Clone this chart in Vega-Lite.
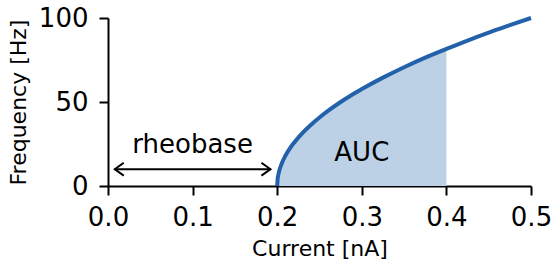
{
  "$schema": "https://vega.github.io/schema/vega-lite/v6.json",
  "autosize": "none",
  "width": 423,
  "height": 168,
  "padding": {"left": 108, "top": 18, "right": 21, "bottom": 76},
  "config": {
    "view": {"stroke": null},
    "font": "DejaVu Sans",
    "axis": {
      "grid": false,
      "domainColor": "black",
      "domainWidth": 2,
      "tickColor": "black",
      "tickWidth": 2,
      "tickSize": 9,
      "labelFont": "DejaVu Sans",
      "labelFontSize": 26,
      "labelColor": "black",
      "labelFlush": false,
      "labelOverlap": false,
      "titleFont": "DejaVu Sans",
      "titleFontSize": 22,
      "titleFontWeight": "normal",
      "titleColor": "black"
    }
  },
  "datasets": {
    "curve": [
      {"I": 0.2, "f": 0},
      {"I": 0.2005, "f": 4.1},
      {"I": 0.201, "f": 5.8},
      {"I": 0.202, "f": 8.2},
      {"I": 0.205, "f": 12.9},
      {"I": 0.21, "f": 18.3},
      {"I": 0.215, "f": 22.4},
      {"I": 0.22, "f": 25.8},
      {"I": 0.23, "f": 31.6},
      {"I": 0.24, "f": 36.5},
      {"I": 0.25, "f": 40.8},
      {"I": 0.26, "f": 44.7},
      {"I": 0.275, "f": 50.0},
      {"I": 0.29, "f": 54.8},
      {"I": 0.3, "f": 57.7},
      {"I": 0.325, "f": 64.5},
      {"I": 0.35, "f": 70.7},
      {"I": 0.375, "f": 76.4},
      {"I": 0.4, "f": 81.6},
      {"I": 0.425, "f": 86.6},
      {"I": 0.45, "f": 91.3},
      {"I": 0.475, "f": 95.7},
      {"I": 0.5, "f": 100.0}
    ],
    "arrow": [{"x1": 0.008, "x2": 0.192, "y": 10}],
    "labels": [
      {"x": 0.1, "y": 19.5, "text": "rheobase"},
      {"x": 0.3, "y": 15, "text": "AUC"}
    ]
  },
  "layer": [
    {
      "data": {"name": "curve"},
      "transform": [{"filter": "datum.I <= 0.4"}],
      "mark": {"type": "area", "color": "#bcd1e6", "interpolate": "monotone"},
      "encoding": {
        "x": {"field": "I", "type": "quantitative"},
        "y": {"field": "f", "type": "quantitative"}
      }
    },
    {
      "data": {"name": "curve"},
      "mark": {"type": "line", "color": "#2362ab", "strokeWidth": 4, "interpolate": "monotone", "strokeCap": "butt"},
      "encoding": {
        "x": {"field": "I", "type": "quantitative", "scale": {"domain": [0, 0.5], "nice": false},
          "axis": {"title": "Current [nA]", "values": [0, 0.1, 0.2, 0.3, 0.4, 0.5], "format": ".1f", "labelPadding": 9, "titlePadding": 8}},
        "y": {"field": "f", "type": "quantitative", "scale": {"domain": [0, 100], "nice": false},
          "axis": {"title": "Frequency [Hz]", "values": [0, 50, 100], "labelPadding": 11, "titlePadding": 8}}
      }
    },
    {
      "data": {"name": "arrow"},
      "mark": {"type": "rule", "color": "black", "strokeWidth": 2},
      "encoding": {
        "x": {"field": "x1", "type": "quantitative"},
        "x2": {"field": "x2"},
        "y": {"field": "y", "type": "quantitative"}
      }
    },
    {
      "data": {"name": "arrow"},
      "mark": {"type": "point", "shape": "M1,-0.72L0,0L1,0.72", "filled": false, "stroke": "black", "strokeWidth": 2, "size": 324, "opacity": 1},
      "encoding": {
        "x": {"field": "x1", "type": "quantitative"},
        "y": {"field": "y", "type": "quantitative"}
      }
    },
    {
      "data": {"name": "arrow"},
      "mark": {"type": "point", "shape": "M-1,-0.72L0,0L-1,0.72", "filled": false, "stroke": "black", "strokeWidth": 2, "size": 324, "opacity": 1},
      "encoding": {
        "x": {"field": "x2", "type": "quantitative"},
        "y": {"field": "y", "type": "quantitative"}
      }
    },
    {
      "data": {"name": "labels"},
      "mark": {"type": "text", "font": "DejaVu Sans", "fontSize": 26, "color": "black", "baseline": "alphabetic", "align": "center"},
      "encoding": {
        "x": {"field": "x", "type": "quantitative"},
        "y": {"field": "y", "type": "quantitative"},
        "text": {"field": "text"}
      }
    }
  ]
}
